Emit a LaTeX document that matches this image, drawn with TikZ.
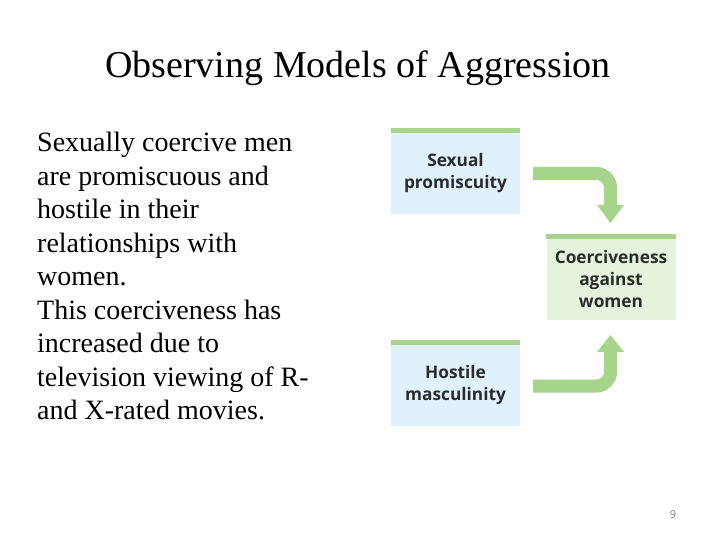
\documentclass[tikz,border=0pt]{standalone}
\usepackage{fontspec}
\setmainfont{Liberation Serif}
\newfontfamily\diag{Open Sans}
\definecolor{bluebox}{HTML}{DFF1FA}
\definecolor{greenbox}{HTML}{E6F3DC}
\definecolor{bar}{HTML}{A8D28E}
\definecolor{arr}{HTML}{A6D48B}
\definecolor{txt}{HTML}{2B2B2B}
\begin{document}
\begin{tikzpicture}[x=1pt,y=-1pt,
  box/.style={minimum width=129pt,minimum height=81pt,inner sep=0pt,align=center,font=\diag\fontsize{17.3}{22}\selectfont\bfseries,text=txt},
  shaft/.style={draw=arr,line width=13pt,rounded corners=14pt},
  head/.style={fill=arr}]
\useasboundingbox (0,0) rectangle (720,540);
\node[anchor=center] (title) at (358,68) {\fontsize{38}{42}\selectfont Observing Models of Aggression};
\node[anchor=north west,inner sep=0pt] (body) at (37,128)
 {\fontsize{28}{33.5}\selectfont\renewcommand\arraystretch{1}\begin{tabular}{@{}l@{}}Sexually coercive men\\ are promiscuous and\\ hostile in their\\ relationships with\\ women.\\ This coerciveness has\\ increased due to\\ television viewing of R-\\ and X-rated movies.\end{tabular}};
\node[box,fill=bluebox] (sp) at (455.5,173.5) {Sexual\\promiscuity};
\node[box,fill=greenbox] (cw) at (611,279.5) {Coerciveness\\against\\women};
\node[box,fill=bluebox] (hm) at (455.5,385.5) {Hostile\\masculinity};
\fill[bar] (sp.north west) rectangle ([yshift=4.5pt]sp.north east);
\fill[bar] (cw.north west) rectangle ([yshift=4.5pt]cw.north east);
\fill[bar] (hm.north west) rectangle ([yshift=4.5pt]hm.north east);
\coordinate (a1) at (533,173.5);
\coordinate (a2) at (533,386);
\draw[shaft] (a1) -- (610.5,173.5) -- (610.5,206);
\fill[head] (597,205) -- (624,205) -- (610.5,223) -- cycle;
\draw[shaft] (a2) -- (610.5,386) -- (610.5,351);
\fill[head] (597,352) -- (624,352) -- (610.5,335) -- cycle;
\node (pg) at (673,515) {\diag\fontsize{11}{12}\selectfont\color{gray}9};
\end{tikzpicture}
\end{document}
